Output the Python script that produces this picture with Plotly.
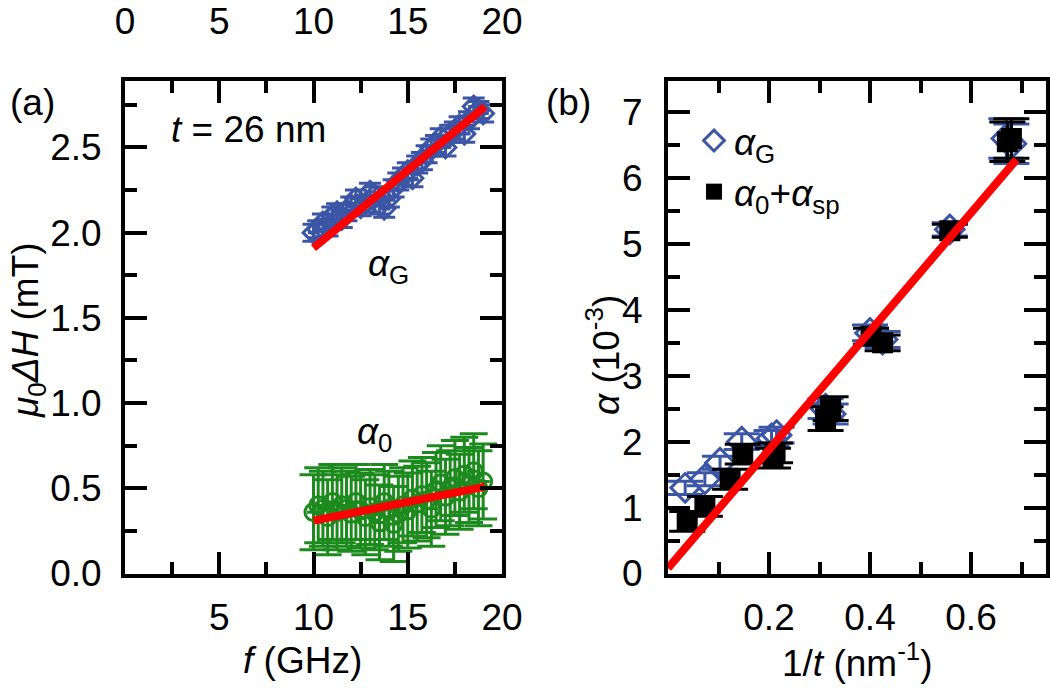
import plotly.graph_objects as go

# ---------------- data: panel (a) ----------------
f_GHz = [10.0, 10.25, 10.5, 10.75, 11.0, 11.25, 11.5, 11.75, 12.0, 12.25, 12.5, 12.75,
         13.0, 13.25, 13.5, 13.75, 14.0, 14.25, 14.5, 14.75, 15.0, 15.25, 15.5, 15.75,
         16.0, 16.25, 16.5, 16.75, 17.0, 17.25, 17.5, 17.75, 18.0, 18.25, 18.5, 18.75, 19.0]
dH_G = [2.00, 2.02, 2.06, 2.03, 2.10, 2.12, 2.08, 2.12, 2.16, 2.20, 2.15, 2.17,
        2.24, 2.22, 2.16, 2.14, 2.20, 2.26, 2.30, 2.33, 2.36, 2.32, 2.40, 2.42,
        2.46, 2.50, 2.52, 2.56, 2.50, 2.58, 2.60, 2.63, 2.58, 2.66, 2.74, 2.72, 2.70]
dH_G_err = [0.05] * 37
dH_0 = [0.36, 0.40, 0.38, 0.33, 0.42, 0.36, 0.40, 0.38, 0.35, 0.42, 0.37, 0.33,
        0.39, 0.36, 0.30, 0.42, 0.38, 0.29, 0.35, 0.40, 0.37, 0.44, 0.41, 0.46,
        0.43, 0.38, 0.49, 0.53, 0.45, 0.50, 0.56, 0.48, 0.58, 0.52, 0.60, 0.50, 0.54]
dH_0_err = [0.22] * 37
fit_f = [10.0, 19.1]
fit_G = [1.91, 2.74]
fit_0 = [0.31, 0.51]

# ---------------- data: panel (b) ----------------
inv_t_G = [0.034, 0.073, 0.103, 0.146, 0.205, 0.215, 0.312, 0.322, 0.400, 0.425, 0.558, 0.670, 0.680]
alpha_G = [1.30, 1.43, 1.68, 2.00, 2.05, 2.10, 2.50, 2.42, 3.65, 3.55, 5.22, 6.60, 6.52]
alpha_G_err = [0.10, 0.10, 0.10, 0.12, 0.12, 0.12, 0.15, 0.15, 0.12, 0.12, 0.10, 0.30, 0.30]
inv_t_0 = [0.038, 0.073, 0.123, 0.148, 0.208, 0.212, 0.312, 0.322, 0.402, 0.425, 0.558, 0.672, 0.680]
alpha_0sp = [0.79, 1.02, 1.43, 1.81, 1.75, 1.83, 2.35, 2.50, 3.60, 3.50, 5.20, 6.55, 6.60]
alpha_0sp_err = [0.15, 0.15, 0.15, 0.15, 0.15, 0.15, 0.18, 0.18, 0.12, 0.12, 0.10, 0.30, 0.30]
fit_x = [0.0, 0.69]
fit_y = [0.08, 6.28]

BLUE = "#3c56a6"
GREEN = "#1d8a1d"
RED = "#ff0000"
FONT = "Liberation Sans, Arial, sans-serif"
FS = 37

fig = go.Figure()

# panel (a)
fig.add_trace(go.Scatter(
    x=f_GHz, y=dH_0, mode="markers", xaxis="x", yaxis="y", showlegend=False,
    marker=dict(symbol="circle-open", size=17, color=GREEN, line=dict(width=3, color=GREEN)),
    error_y=dict(type="data", array=dH_0_err, color=GREEN, thickness=3, width=14),
    error_x=dict(type="constant", value=0.35, color=GREEN, thickness=3, width=0),
))
fig.add_trace(go.Scatter(
    x=f_GHz, y=dH_G, mode="markers", xaxis="x", yaxis="y", showlegend=False,
    marker=dict(symbol="diamond-open", size=16, color=BLUE, line=dict(width=3, color=BLUE)),
    error_y=dict(type="data", array=dH_G_err, color=BLUE, thickness=3, width=11),
    error_x=dict(type="constant", value=0.3, color=BLUE, thickness=3, width=0),
))
fig.add_trace(go.Scatter(x=fit_f, y=fit_G, mode="lines", xaxis="x", yaxis="y",
                         line=dict(color=RED, width=8), showlegend=False))
fig.add_trace(go.Scatter(x=fit_f, y=fit_0, mode="lines", xaxis="x", yaxis="y",
                         line=dict(color=RED, width=8), showlegend=False))

# panel (b)
fig.add_trace(go.Scatter(
    x=inv_t_G, y=alpha_G, mode="markers", xaxis="x2", yaxis="y2",
    name="<i>α</i><sub>G</sub>",
    marker=dict(symbol="diamond-open", size=22, color=BLUE, line=dict(width=3, color=BLUE)),
    error_y=dict(type="data", array=alpha_G_err, color=BLUE, thickness=3, width=18),
))
fig.add_trace(go.Scatter(
    x=inv_t_0, y=alpha_0sp, mode="markers", xaxis="x2", yaxis="y2",
    name="<i>α</i><sub>0</sub>+<i>α</i><sub>sp</sub>",
    marker=dict(symbol="square", size=21, color="black"),
    error_y=dict(type="data", array=alpha_0sp_err, color="black", thickness=3, width=18),
))
fig.add_trace(go.Scatter(x=fit_x, y=fit_y, mode="lines", xaxis="x2", yaxis="y2",
                         line=dict(color=RED, width=8), showlegend=False))

W, H = 1050, 688
def px(x):
    return x / W
def py(y):
    return 1 - y / H

ydom = [py(573.5), py(80.5)]
axcommon = dict(
    showline=True, linecolor="black", linewidth=4, mirror="ticks",
    ticks="inside", ticklen=22, tickwidth=4, tickcolor="black",
    showgrid=False, zeroline=False, automargin=False,
    tickfont=dict(family=FONT, size=FS, color="black"),
)
minor = dict(ticks="inside", ticklen=12, tickwidth=4, tickcolor="black", showgrid=False)

fig.update_layout(
    width=W, height=H,
    margin=dict(l=0, r=0, t=0, b=0, autoexpand=False),
    paper_bgcolor="white", plot_bgcolor="white",
    font=dict(family=FONT, size=FS, color="black"),
    xaxis=dict(domain=[px(125), px(502)], range=[0, 20], anchor="y",
               tickvals=[5, 10, 15, 20], ticklabelstandoff=8,
               minor=dict(dtick=2.5, tick0=0, **minor), **axcommon),
    xaxis3=dict(domain=[px(125), px(502)], range=[0, 20], anchor="y", overlaying="x",
                side="top", tickvals=[0, 5, 10, 15, 20], showline=False, ticks="",
                showgrid=False, zeroline=False, ticklabelstandoff=38, automargin=False,
                tickfont=dict(family=FONT, size=FS, color="black")),
    yaxis=dict(domain=ydom, range=[0, 2.893], anchor="x",
               tickvals=[0, 0.5, 1.0, 1.5, 2.0, 2.5], tickformat=".1f", ticklabelstandoff=12,
               minor=dict(dtick=0.25, tick0=0, **minor), **axcommon),
    xaxis2=dict(domain=[px(668), px(1046)], range=[0, 0.7485], anchor="y2",
                tickvals=[0.2, 0.4, 0.6], ticklabelstandoff=8,
                minor=dict(dtick=0.1, tick0=0, **minor), **axcommon),
    yaxis2=dict(domain=ydom, range=[0, 7.48], anchor="x2",
                tickvals=[0, 1, 2, 3, 4, 5, 6, 7], ticklabelstandoff=14,
                minor=dict(dtick=0.5, tick0=0, **minor), **axcommon),
    legend=dict(x=px(694), y=py(110), xanchor="left", yanchor="top",
                bgcolor="rgba(0,0,0,0)", font=dict(family=FONT, size=FS),
                itemsizing="trace", tracegroupgap=0),
)

# dummy trace so that xaxis3 renders
fig.add_trace(go.Scatter(x=[0, 20], y=[None, None], xaxis="x3", yaxis="y",
                         mode="markers", showlegend=False, hoverinfo="skip"))

ann = [
    ("(a)", 32, 102, 0),
    ("(b)", 568, 102, 0),
    ("<i>t</i> = 26 nm", 248, 129, 0),
    ("<i>α</i><sub>G</sub>", 388, 266, 0),
    ("<i>α</i><sub>0</sub>", 375, 434, 0),
    ("<i>f</i> (GHz)", 302, 660, 0),
    ("1/<i>t</i> (nm<sup>-1</sup>)", 857, 660, 0),
    ("<i>μ</i><sub>0</sub><i>ΔH</i> (mT)", 28, 330, -90),
    ("<i>α</i> (10<sup>-3</sup>)", 603, 355, -90),
]
for text, x, y, ang in ann:
    fig.add_annotation(text=text, x=px(x), y=py(y), xref="paper", yref="paper",
                       showarrow=False, xanchor="center", yanchor="middle",
                       textangle=ang, font=dict(family=FONT, size=FS, color="black"))

fig.write_html("out.html", config={"displayModeBar": False},
               post_script="document.body.style.margin='0';document.body.style.overflow='hidden';")
